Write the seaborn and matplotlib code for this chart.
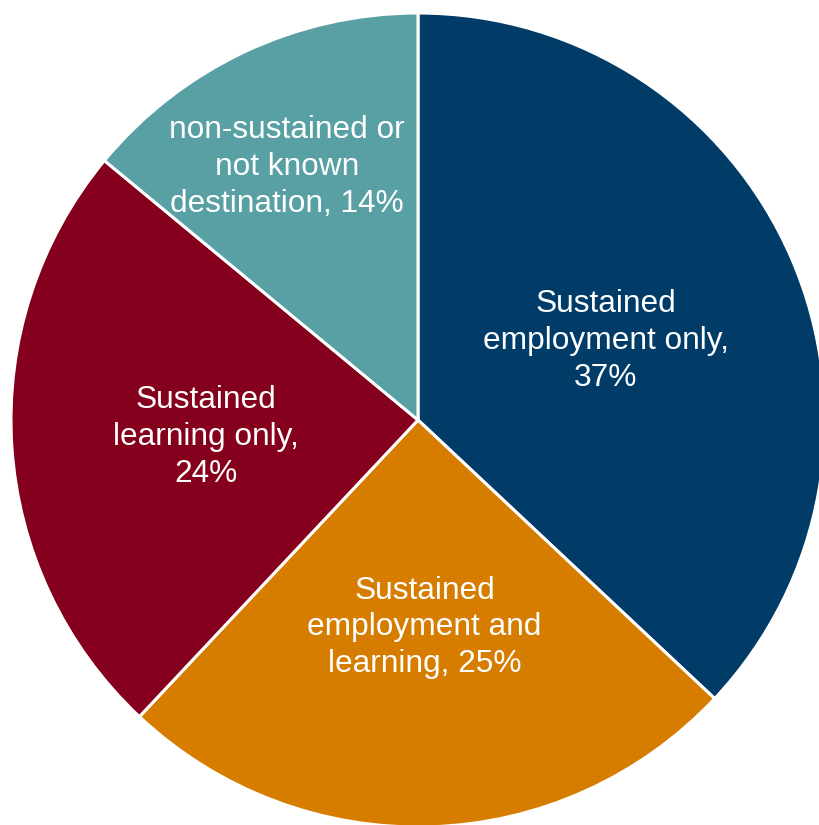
import matplotlib
matplotlib.use("Agg")
import matplotlib.pyplot as plt
import seaborn as sns
import numpy as np

# Destination categories and their shares (%)
categories = [
    "Sustained\nemployment only",
    "Sustained\nemployment and\nlearning",
    "Sustained\nlearning only",
    "non-sustained or\nnot known\ndestination",
]
shares = [37, 25, 24, 14]
label_texts = [
    "Sustained\nemployment only,\n37%",
    "Sustained\nemployment and\nlearning, 25%",
    "Sustained\nlearning only,\n24%",
    "non-sustained or\nnot known\ndestination, 14%",
]
slice_colors = ["#013C69", "#D67D00", "#85001D", "#58A0A3"]
# label placement: fraction of the radius, and a small turn (degrees)
# away from each wedge's mid-angle
label_radius = [0.50, 0.51, 0.523, 0.70]
label_turn = [-0.6, 0.0, 1.0, 2.2]

sns.set_theme(style="white")
plt.rcParams["font.family"] = ["Liberation Sans", "DejaVu Sans"]

W, H = 819, 825
fig = plt.figure(figsize=(W / 100, H / 100), dpi=100)
ax = fig.add_axes([0, 0, 1, 1])

cx, cy, R = 418, H - 420, 407
wedges, _ = ax.pie(
    shares,
    colors=sns.color_palette(slice_colors),
    startangle=90,
    counterclock=False,
    center=(cx, cy),
    radius=R,
    wedgeprops=dict(edgecolor="white", linewidth=2.2),
)

for w, txt, rf, turn in zip(wedges, label_texts, label_radius, label_turn):
    mid = np.deg2rad((w.theta1 + w.theta2) / 2 + turn)
    x = cx + rf * R * np.cos(mid)
    y = cy + rf * R * np.sin(mid)
    ax.text(x, y, txt, ha="center", va="center", multialignment="center",
            color="white", fontsize=22.8, linespacing=1.3)

ax.set_xlim(0, W)
ax.set_ylim(0, H)
ax.set_aspect("equal")
ax.axis("off")

fig.savefig("out.png", dpi=100, facecolor="white")
